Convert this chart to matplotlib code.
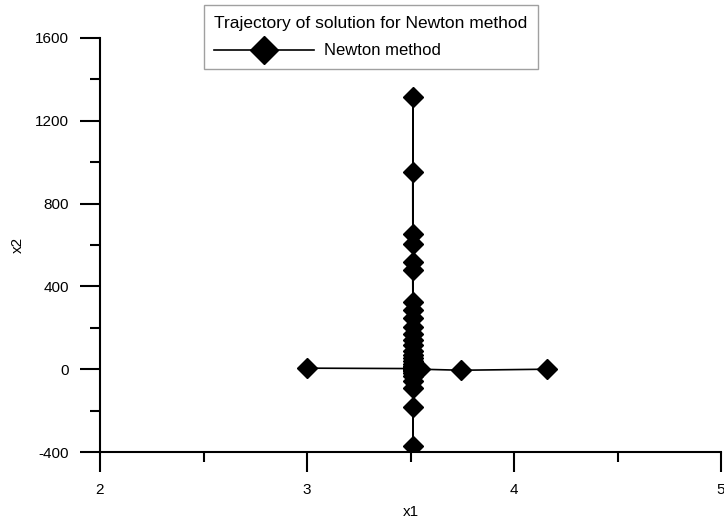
import matplotlib
matplotlib.use("Agg")
import matplotlib.pyplot as plt
from matplotlib.ticker import MultipleLocator

plt.rcParams['font.family'] = ['Liberation Sans', 'DejaVu Sans']
plt.rcParams['font.size'] = 11
plt.rcParams['axes.unicode_minus'] = False

# trajectory points (order is a guess, the marks are what matter)
x1 = [3.0, 3.511,
      3.512, 3.512, 3.511, 3.512, 3.513, 3.511, 3.512, 3.512, 3.511, 3.512,
      3.511, 3.513, 3.512, 3.512, 3.511, 3.512, 3.513, 3.511, 3.512, 3.512,
      3.513, 3.511, 3.512, 3.512, 3.512, 3.511, 3.512, 3.513, 3.512, 3.511,
      3.546, 3.745, 4.16]
x2 = [5, 3,
      1316, -370, 954, -183, 655, -92, 607, -55, 516, -35,
      477, -20, 323, -10, 284, -3, 246, 8, 205, 15,
      170, 25, 140, 38, 115, 52, 90, 70, 10, 2,
      0, -5, 0]

fig = plt.figure(figsize=(7.24, 5.22), dpi=100)
ax = fig.add_axes([100 / 724, 70 / 522, 621 / 724, 414 / 522])

ax.plot(x1, x2, color='black', lw=1.2, marker='D', markersize=10.2,
        markerfacecolor='black', markeredgecolor='black', label='Newton method')

ax.set_xlim(2, 5)
ax.set_ylim(-400, 1600)
ax.xaxis.set_major_locator(MultipleLocator(1))
ax.xaxis.set_minor_locator(MultipleLocator(0.5))
ax.yaxis.set_major_locator(MultipleLocator(400))
ax.yaxis.set_minor_locator(MultipleLocator(200))

for s in ['top', 'right']:
    ax.spines[s].set_visible(False)
for s in ['left', 'bottom']:
    ax.spines[s].set_linewidth(1.5)
    ax.spines[s].set_capstyle('projecting')

ax.tick_params(which='major', direction='out', length=14.4, width=1.5, pad=8, labelsize=11)
ax.tick_params(which='minor', direction='out', length=7.2, width=1.5)

ax.set_xlabel('x1', fontsize=11, labelpad=6)
ax.set_ylabel('x2', fontsize=11, labelpad=7)

leg = ax.legend(loc='upper center', bbox_to_anchor=(371 / 724, 1 - 5 / 522),
                bbox_transform=fig.transFigure, title='Trajectory of solution for Newton method',
                fancybox=False, framealpha=1, edgecolor='#a0a0a0', handlelength=6.0,
                markerscale=1.4, fontsize=12, title_fontsize=12.5, borderpad=0.65,
                handletextpad=0.6, borderaxespad=0, labelspacing=0.75, alignment='left')
leg.get_frame().set_linewidth(1.0)

fig.savefig('out.png', dpi=100)
